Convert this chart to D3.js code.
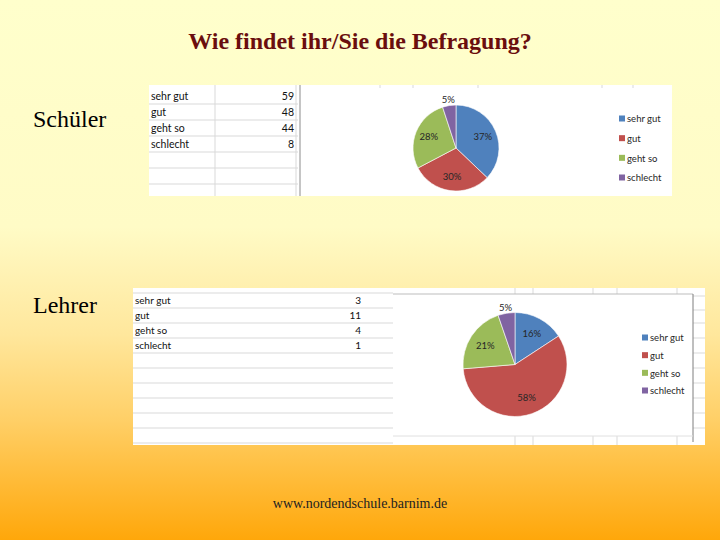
<!DOCTYPE html>
<html><head><meta charset="utf-8">
<script src="https://cdn.jsdelivr.net/npm/d3@7"></script>
<style>body{margin:0;padding:0;overflow:hidden}</style>
</head><body>
<script>
// ---- data ----
const categories = ["sehr gut", "gut", "geht so", "schlecht"];
const schuelerValues = [59, 48, 44, 8];
const lehrerValues = [3, 11, 4, 1];
const titleText = "Wie findet ihr/Sie die Befragung?";
const groupLabels = ["Schüler", "Lehrer"];
const footerText = "www.nordendschule.barnim.de";
const sliceColors = ["#4F81BD", "#C0504D", "#9BBB59", "#8064A2"];

const W = 720, H = 540;
const svg = d3.select("body").append("svg").attr("width", W).attr("height", H);

// background gradient
const defs = svg.append("defs");
const lg = defs.append("linearGradient").attr("id", "bg").attr("x1", 0).attr("y1", 0).attr("x2", 0).attr("y2", 1);
[[0, "#FFFFCC"], [0.42, "#FFFBC6"], [0.62, "#FFE79C"], [0.78, "#FFCF66"], [1, "#FFA70A"]]
  .forEach(([o, c]) => lg.append("stop").attr("offset", o).attr("stop-color", c));
svg.append("rect").attr("width", W).attr("height", H).attr("fill", "url(#bg)");

// title
svg.append("text").attr("x", 360).attr("y", 49).attr("text-anchor", "middle")
  .attr("font-family", "Liberation Serif, serif").attr("font-weight", "bold")
  .attr("font-size", 24).attr("fill", "#6A0E0E").text(titleText);

// group labels
svg.append("text").attr("x", 33).attr("y", 127).attr("font-family", "Liberation Serif, serif")
  .attr("font-size", 24).attr("fill", "#000").text(groupLabels[0]);
svg.append("text").attr("x", 33).attr("y", 313).attr("font-family", "Liberation Serif, serif")
  .attr("font-size", 24).attr("fill", "#000").text(groupLabels[1]);

// footer
svg.append("text").attr("x", 360).attr("y", 508).attr("text-anchor", "middle")
  .attr("font-family", "Liberation Serif, serif").attr("font-size", 14)
  .attr("fill", "#222").text(footerText);

const sans = "Lato, 'Open Sans', sans-serif";

function panel(cfg) {
  const g = svg.append("g");
  // white sheet
  g.append("rect").attr("x", cfg.x0).attr("y", cfg.y0).attr("width", cfg.x1 - cfg.x0)
    .attr("height", cfg.y1 - cfg.y0).attr("fill", "#fff");
  // table row grid lines
  cfg.rowLines.forEach(y => g.append("line").attr("x1", cfg.x0).attr("x2", cfg.tableRight)
    .attr("y1", y).attr("y2", y).attr("stroke", "#D9D9D9").attr("stroke-width", 1));
  (cfg.tableVLines || []).forEach(x => g.append("line").attr("x1", x).attr("x2", x)
    .attr("y1", cfg.y0).attr("y2", cfg.y1).attr("stroke", "#D9D9D9"));
  // table text
  const rowY = d3.scaleBand().domain(categories).range([cfg.rowTop, cfg.rowTop + cfg.rowH * categories.length]);
  categories.forEach((c, i) => {
    g.append("text").attr("x", cfg.x0 + 2).attr("y", rowY(c) + cfg.rowH - 4)
      .attr("font-family", sans).attr("font-size", cfg.fs).attr("fill", "#111").text(c);
    g.append("text").attr("x", cfg.numX).attr("y", rowY(c) + cfg.rowH - 4).attr("text-anchor", "end")
      .attr("font-family", sans).attr("font-size", cfg.fs).attr("fill", "#111").text(cfg.values[i]);
  });
  // gridline stubs outside chart
  (cfg.stubX || []).forEach(x => {
    g.append("line").attr("x1", x).attr("x2", x).attr("y1", cfg.y0).attr("y2", cfg.chartTop)
      .attr("stroke", "#D9D9D9");
    if (cfg.chartBottom < cfg.y1) g.append("line").attr("x1", x).attr("x2", x).attr("y1", cfg.chartBottom).attr("y2", cfg.y1)
      .attr("stroke", "#D9D9D9");
  });
  (cfg.rightGridY || []).forEach(y => g.append("line").attr("x1", cfg.chartRight).attr("x2", cfg.x1)
    .attr("y1", y).attr("y2", y).attr("stroke", "#D9D9D9"));
  // chart area
  g.append("rect").attr("x", cfg.chartLeft).attr("y", cfg.chartTop)
    .attr("width", cfg.chartRight - cfg.chartLeft).attr("height", cfg.chartBottom - cfg.chartTop)
    .attr("fill", "#fff");
  (cfg.borders || []).forEach(([x1, y1, x2, y2, col]) => g.append("line")
    .attr("x1", x1).attr("y1", y1).attr("x2", x2).attr("y2", y2).attr("stroke", col));

  // pie
  const total = d3.sum(cfg.values);
  const pie = d3.pie().sort(null).value(d => d)(cfg.values);
  const arc = d3.arc().innerRadius(0).outerRadius(cfg.r);
  const pg = g.append("g").attr("transform", `translate(${cfg.cx},${cfg.cy})`);
  pg.selectAll("path").data(pie).join("path").attr("d", arc)
    .attr("fill", (d, i) => sliceColors[i]).attr("stroke", "#fff").attr("stroke-width", 0.6);
  pie.forEach((d, i) => {
    const share = d.value / total;
    const a = (d.startAngle + d.endAngle) / 2;
    const rr = share < 0.08 ? cfg.r * cfg.outF : cfg.r * 0.68;
    const x = Math.sin(a) * rr, y = -Math.cos(a) * rr;
    pg.append("text").attr("x", x).attr("y", y).attr("dy", "0.35em").attr("text-anchor", "middle")
      .attr("font-family", sans).attr("font-size", cfg.lfs).attr("fill", "#262626")
      .text(Math.round(share * 100) + "%");
  });
  // legend
  const ly = d3.scalePoint().domain(categories).range([cfg.legY0, cfg.legY1]);
  categories.forEach((c, i) => {
    g.append("rect").attr("x", cfg.legX).attr("y", ly(c) - 3.5).attr("width", 6).attr("height", 6)
      .attr("fill", sliceColors[i]);
    g.append("text").attr("x", cfg.legX + 8).attr("y", ly(c)).attr("dy", "0.35em")
      .attr("font-family", sans).attr("font-size", cfg.lfs).attr("fill", "#262626").text(c);
  });
}

panel({
  x0: 149, x1: 672, y0: 85, y1: 196,
  tableRight: 298, rowLines: [104, 120, 136, 152, 168, 184], tableVLines: [215, 296],
  rowTop: 88, rowH: 16, fs: 10.5, numX: 294, values: schuelerValues,
  chartLeft: 300, chartTop: 88, chartRight: 672, chartBottom: 196,
  borders: [[300, 85, 300, 196, "#8C8C8C"]],
  stubX: [380, 413, 478, 602, 633],
  cx: 456, cy: 148, r: 43, outF: 1.13, lfs: 9.5,
  legX: 619, legY0: 119, legY1: 178
});

panel({
  x0: 133, x1: 705, y0: 288, y1: 445,
  tableRight: 393, rowLines: [293, 308, 323, 338, 353, 368, 383, 398, 413, 428, 443],
  rowTop: 293, rowH: 15, fs: 10, numX: 361, values: lehrerValues,
  chartLeft: 393, chartTop: 294, chartRight: 693, chartBottom: 436,
  borders: [[393, 294, 693, 294, "#BDBDBD"], [693, 294, 693, 442, "#7F7F7F"], [393, 436, 693, 436, "#E0E0E0"]],
  stubX: [515, 533, 593, 617, 677],
  rightGridY: [296, 310, 323, 338, 353, 368, 383, 398, 413, 428],
  cx: 515, cy: 364.5, r: 52, outF: 1.1, lfs: 9.5,
  legX: 642, legY0: 338, legY1: 391
});
</script>
</body></html>
